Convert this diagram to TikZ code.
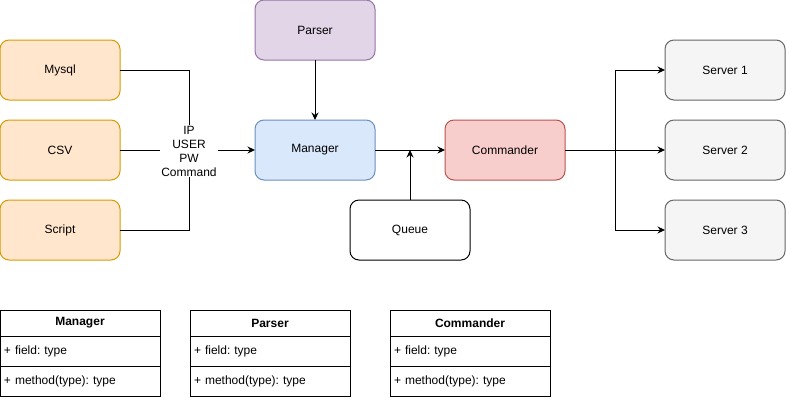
\documentclass[tikz,border=0pt]{standalone}
\usepackage{fontspec}
\setmainfont{Liberation Sans}
\usetikzlibrary{arrows.meta}
\definecolor{srcF}{HTML}{FFE6CC}
\definecolor{srcD}{HTML}{D79B00}
\definecolor{parF}{HTML}{E1D5E7}
\definecolor{parD}{HTML}{9673A6}
\definecolor{mgrF}{HTML}{DAE8FC}
\definecolor{mgrD}{HTML}{6C8EBF}
\definecolor{cmdF}{HTML}{F8CECC}
\definecolor{cmdD}{HTML}{B85450}
\definecolor{srvF}{HTML}{F5F5F5}
\definecolor{srvD}{HTML}{666666}
\newcommand{\nf}{\fontsize{12}{14}\selectfont\frenchspacing}

\begin{document}
\begin{tikzpicture}[x=1pt,y=-1pt,line width=1pt,every node/.style={inner sep=0pt,outer sep=0pt},
 box/.style={draw,rounded corners=9pt,minimum width=120pt,minimum height=60pt,font=\nf},
 clshead/.style={draw,minimum width=160pt,minimum height=26pt,anchor=north west,font=\nf\bfseries},
 clsrow/.style={draw,minimum height=30pt,text width=152pt,inner xsep=4pt,align=left,anchor=north west,font=\nf},
 tip/.style={-{Stealth[length=7.5pt,width=7pt]}}]
\path[use as bounding box] (0,0) rectangle (786,400);
% ---------- sources
\node[box,fill=srcF,draw=srcD] (mysql) at (60,70) {Mysql};
\node[box,fill=srcF,draw=srcD] (csv) at (60,150) {CSV};
\node[box,fill=srcF,draw=srcD] (script) at (60,230) {Script};
% ---------- middle
\node[box,fill=parF,draw=parD] (parser) at (315,30) {Parser};
\node[box,fill=mgrF,draw=mgrD] (manager) at (315,150) {Manager};
\node[box,fill=cmdF,draw=cmdD] (commander) at (505,150) {Commander};
\node[box,fill=white,draw=black] (queue) at (410,230) {Queue};
% ---------- servers
\foreach \i/\yy in {1/70,2/150,3/230}
 \node[box,fill=srvF,draw=srvD] (srv\i) at (725,\yy) {Server \i};
% ---------- edges
\node[font=\nf,align=center,fill=white,inner sep=1pt] (cred) at (189,151) {IP\\USER\\PW\\Command};
\draw (mysql.east) -| (cred.north);
\draw (script.east) -| (cred.south);
\draw (csv.east) -- (csv.east -| cred.west);
\draw[tip] (cred.east |- manager.west) -- (manager.west);
\draw[tip] (parser.south) -- (manager.north);
\draw[tip] (manager.east) -- (commander.west);
\coordinate (qjoin) at (queue.north |- manager.east);
\draw[tip] (queue.north) -- (qjoin);
\coordinate (fork) at (615,150);
\draw (commander.east) -- (fork);
\foreach \i in {1,2,3} \draw[tip] (fork) |- (srv\i.west);
% ---------- classes
\newcommand{\umlcls}[3]{% #1 = name, #2 = x, #3 = title
 \node[clshead] (#1H) at (#2,310) {#3};
 \node[clsrow] (#1F) at (#2,336) {+ field: type};
 \node[clsrow] (#1M) at (#2,366) {+ method(type): type};}
\umlcls{mgr}{0}{Manager}
\umlcls{par}{190}{Parser}
\umlcls{cmd}{390}{Commander}
\end{tikzpicture}
\end{document}
